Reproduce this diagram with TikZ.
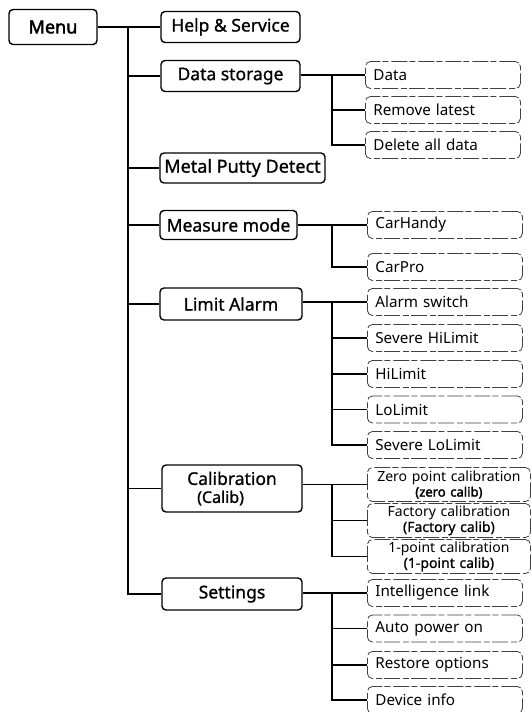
\documentclass[tikz,border=0pt]{standalone}
\usepackage{fontspec}
\setmainfont{Noto Sans}[AutoFakeBold=2.2]
\newfontfamily\medfont{Noto Sans}[FakeBold=1.0]
\begin{document}
\begin{tikzpicture}[x=1pt,y=-1pt,
  parent/.style={draw, line width=1.4pt, rounded corners=4pt, inner sep=0pt,
    font=\medfont\fontsize{17.5}{20}\selectfont},
  leaf/.style={draw=black!75, line width=0.8pt,
    dash pattern=on 16pt off 3pt on 6pt off 2pt, rounded corners=5pt,
    anchor=west, minimum height=27pt, minimum width=155pt, text width=139pt,
    inner xsep=8pt, inner ysep=0pt, align=left, font=\fontsize{15.2}{17}\selectfont},
  cleaf/.style={leaf, minimum width=163pt, text width=157pt, inner xsep=3pt,
    align=center, minimum height=34pt, font=\fontsize{14}{15.5}\selectfont},
  sublab/.style={},
  conn/.style={line width=1.2pt}]
\fill[white] (0,0) rectangle (532,712);
\useasboundingbox (0,0) rectangle (532,712);

% parents
\node[parent, minimum width=88pt, minimum height=35pt, font=\fontsize{18}{20}\selectfont\bfseries] (menu) at (53,27) {Menu};
\node[parent, minimum width=139pt, minimum height=31pt] (help) at (230.5,27) {Help \& Service};
\node[parent, minimum width=139pt, minimum height=31pt] (data) at (230.5,76) {Data storage};
\node[parent, minimum width=165pt, minimum height=30pt, font=\medfont\fontsize{18}{20}\selectfont] (metal) at (242.5,168) {Metal Putty Detect};
\node[parent, minimum width=137pt, minimum height=29pt] (measure) at (228.5,225) {Measure mode};
\node[parent, minimum width=142pt, minimum height=32pt] (limit) at (231,304) {Limit Alarm};
\node[parent, minimum width=140pt, minimum height=47pt, align=left] (calib) at (232,488.5)
  {Calibration\\[-2pt]\hspace*{10pt}{\fontsize{16}{18}\selectfont(Calib)}};
\node[parent, minimum width=140pt, minimum height=32pt] (settings) at (232,594) {Settings};

% leaves
\node[leaf] (d1) at (365,75) {Data};
\node[leaf] (d2) at (365,110) {Remove latest};
\node[leaf] (d3) at (365,145) {Delete all data};

\node[leaf] (m1) at (367,225) {CarHandy};
\node[leaf] (m2) at (367,267) {CarPro};

\node[leaf] (l1) at (367,302) {Alarm switch};
\node[leaf] (l2) at (367,338) {Severe HiLimit};
\node[leaf] (l3) at (367,374) {HiLimit};
\node[leaf] (l4) at (367,409.5) {LoLimit};
\node[leaf] (l5) at (367,445) {Severe LoLimit};

\node[cleaf] (c1) at (367,484.5) {Zero point calibration\\{\fontsize{13}{15.5}\selectfont\bfseries (zero calib)}};
\node[cleaf] (c2) at (367,520.5) {Factory calibration\\{\medfont\fontsize{14}{15.5}\selectfont (Factory calib)}};
\node[cleaf] (c3) at (367,556.5) {1-point calibration\\{\medfont\fontsize{14}{15.5}\selectfont (1-point calib)}};

\node[leaf] (s1) at (367,593) {Intelligence link};
\node[leaf] (s2) at (367,628.5) {Auto power on};
\node[leaf] (s3) at (367,665) {Restore options};
\node[leaf] (s4) at (367,700) {Device info};

% trunk
\coordinate (trunk) at (128,0);
\coordinate (br) at (332,0);
\draw[conn] (menu.east) -- (help.west);
\draw[conn] (trunk |- help.west) |- (settings.west);
\foreach \p in {data,metal,measure,limit,calib}
  \draw[conn] (trunk |- \p.west) -- (\p.west);

% sub branches
\draw[conn] (data.east |- d1.west) -- (d1.west);
\draw[conn] (br |- d1.west) |- (d3.west);
\draw[conn] (br |- d2.west) -- (d2.west);

\draw[conn] (measure.east |- m1.west) -- (m1.west);
\draw[conn] (br |- m1.west) |- (m2.west);

\draw[conn] (limit.east |- l1.west) -- (l1.west);
\draw[conn] (br |- l1.west) |- (l5.west);
\foreach \l in {l2,l3,l4}
  \draw[conn] (br |- \l.west) -- (\l.west);

\draw[conn] (calib.east |- c1.west) -- (c1.west);
\draw[conn] (br |- c1.west) |- (c3.west);
\draw[conn] (br |- c2.west) -- (c2.west);

\draw[conn] (settings.east |- s1.west) -- (s1.west);
\draw[conn] (br |- s1.west) |- (s4.west);
\foreach \l in {s2,s3}
  \draw[conn] (br |- \l.west) -- (\l.west);
\end{tikzpicture}
\end{document}
